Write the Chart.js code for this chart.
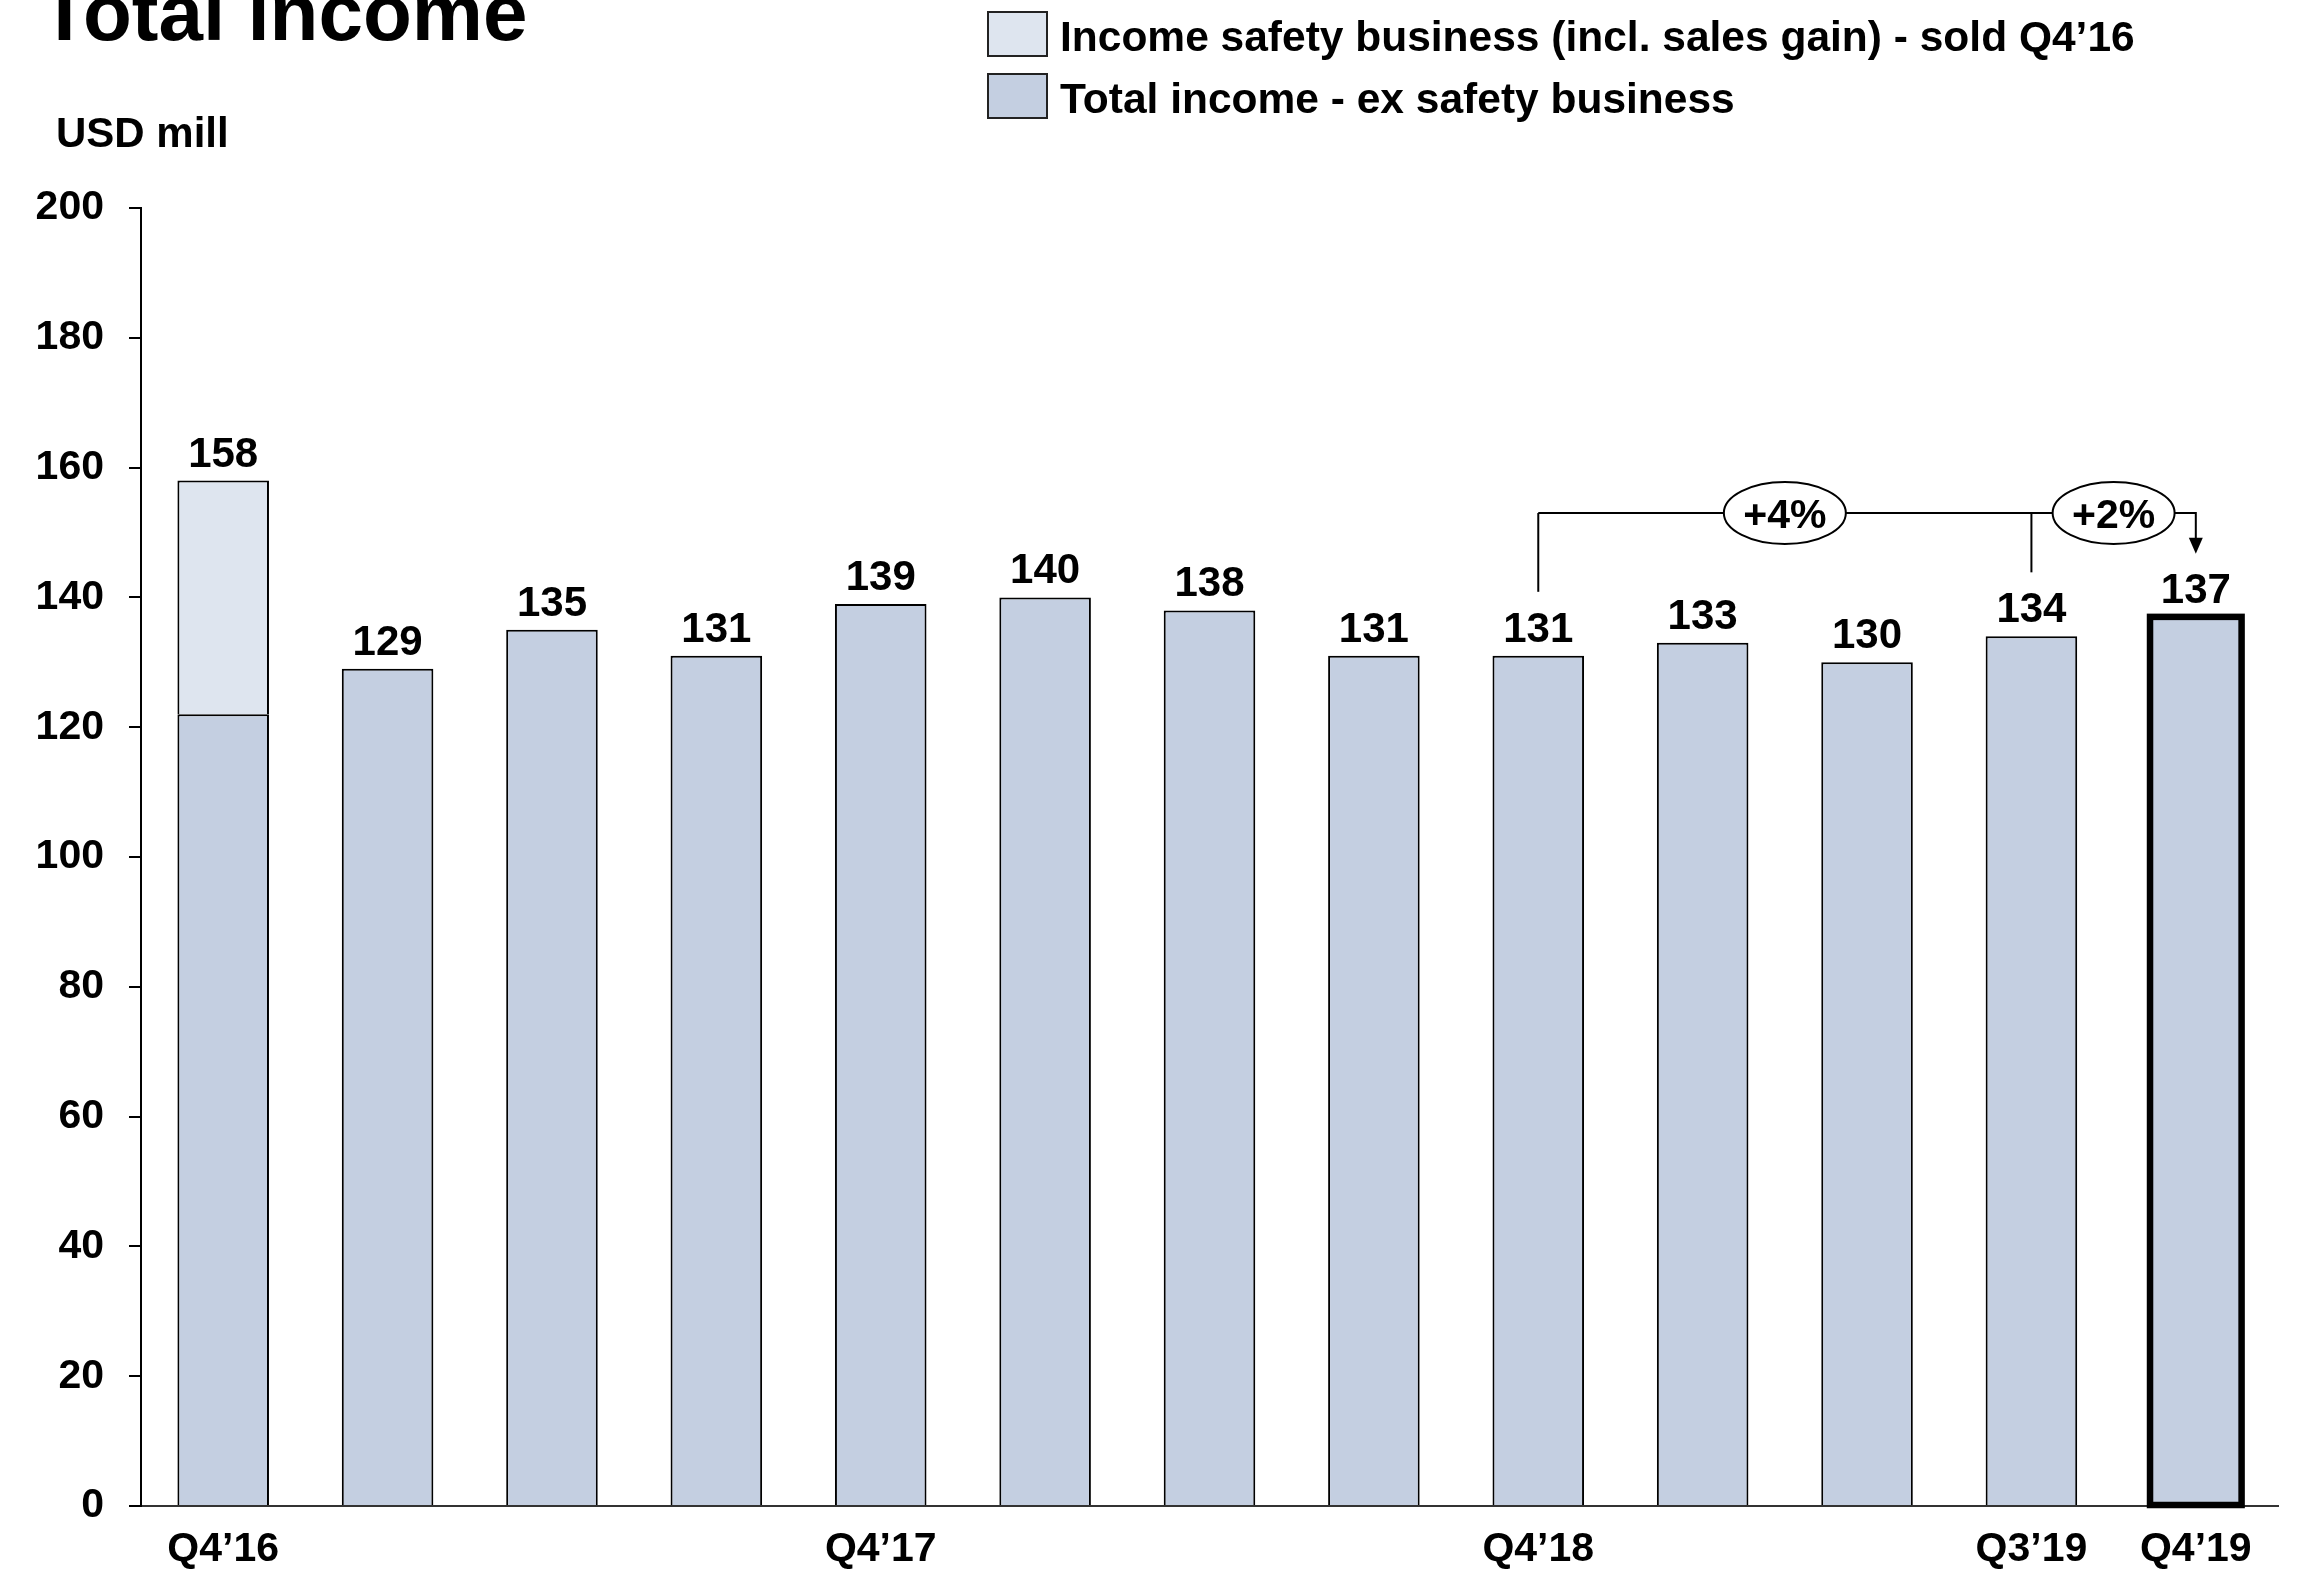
<!DOCTYPE html>
<html>
<head>
<meta charset="utf-8">
<script src="https://cdn.jsdelivr.net/npm/chart.js@4.4.0/dist/chart.umd.min.js"></script>
<style>
  html, body { margin: 0; padding: 0; background: #fff; }
</style>
</head>
<body>
<canvas id="myChart" width="2315" height="1570"></canvas>
<script>
// data
const quarters = ["Q4’16", "Q1’17", "Q2’17", "Q3’17", "Q4’17", "Q1’18", "Q2’18",
  "Q3’18", "Q4’18", "Q1’19", "Q2’19", "Q3’19", "Q4’19"];
const shownTicks = ["Q4’16", "Q4’17", "Q4’18", "Q3’19", "Q4’19"];
const exSafety = [122, 129, 135, 131, 139, 140, 138, 131, 131, 133, 130, 134, 137];
const safetyBusiness = [36, null, null, null, null, null, null, null, null, null, null, null, null];
const growthLabels = ["+4%", "+2%"];
const growthFrom = ["Q4’18", "Q3’19"];
const growthTo = "Q4’19";
const highlight = "Q4’19";

const FONT = '"Liberation Sans", Arial, sans-serif';
const bracketLevel = 153;        // y value of the bracket line
const ellipseAt = [9.5, 11.5];   // category position of the growth bubbles

function boldText(ctx, text, x, y, size, align) {
  ctx.font = "bold " + size + "px " + FONT;
  ctx.textBaseline = "alphabetic";
  ctx.textAlign = align || "left";
  ctx.fillText(text, x, y);
}

const decorations = {
  id: "decorations",
  afterDatasetsDraw(chart) {
    const ctx = chart.ctx;
    const xs = chart.scales.x, ys = chart.scales.y;
    const m0 = chart.getDatasetMeta(0);

    // thick frame on latest quarter
    const hi = quarters.indexOf(highlight);
    const bar = m0.data[hi];
    ctx.save();
    ctx.strokeStyle = "#000";
    ctx.lineWidth = 6.5;
    ctx.strokeRect(bar.x - bar.width / 2, bar.y, bar.width, bar.base - bar.y);
    ctx.restore();

    // value labels
    ctx.save();
    ctx.fillStyle = "#000";
    quarters.forEach((q, i) => {
      const total = exSafety[i] + (safetyBusiness[i] || 0);
      const top = ys.getPixelForValue(total);
      boldText(ctx, String(total), xs.getPixelForValue(i), top - 14, 42, "center");
    });
    ctx.restore();

    // growth brackets
    const yb = ys.getPixelForValue(bracketLevel);
    const toI = quarters.indexOf(growthTo);
    const xTo = xs.getPixelForValue(toI);
    const topTo = ys.getPixelForValue(exSafety[toI]);
    ctx.save();
    ctx.strokeStyle = "#000";
    ctx.fillStyle = "#000";
    ctx.lineWidth = 2;
    const firstX = xs.getPixelForValue(quarters.indexOf(growthFrom[0]));
    ctx.beginPath();
    ctx.moveTo(firstX, yb);
    ctx.lineTo(xTo, yb);
    ctx.lineTo(xTo, topTo - 78);
    ctx.stroke();
    ctx.beginPath();
    ctx.moveTo(xTo - 7, topTo - 79);
    ctx.lineTo(xTo + 7, topTo - 79);
    ctx.lineTo(xTo, topTo - 63);
    ctx.closePath();
    ctx.fill();
    growthFrom.forEach(q => {
      const i = quarters.indexOf(q);
      const x = xs.getPixelForValue(i);
      const t = ys.getPixelForValue(exSafety[i]);
      ctx.beginPath();
      ctx.moveTo(x, yb);
      ctx.lineTo(x, t - 64);
      ctx.stroke();
    });
    growthLabels.forEach((lab, k) => {
      const cx = xs.getPixelForValue(ellipseAt[k]);
      ctx.beginPath();
      ctx.ellipse(cx, yb, 61, 31, 0, 0, Math.PI * 2);
      ctx.fillStyle = "#fff";
      ctx.fill();
      ctx.stroke();
      ctx.fillStyle = "#000";
      boldText(ctx, lab, cx, yb + 15, 41, "center");
    });
    ctx.restore();
  },
  afterDraw(chart) {
    const ctx = chart.ctx;
    ctx.save();
    ctx.fillStyle = "#000";
    boldText(ctx, "Total income", 40, 40, 80);
    boldText(ctx, "USD mill", 56, 147, 42);

    // legend
    const items = [
      { text: "Income safety business (incl. sales gain) - sold Q4’16", color: "#dee5ef", box: 12, base: 51 },
      { text: "Total income - ex safety business", color: "#c4cfe1", box: 74, base: 113 }
    ];
    items.forEach(it => {
      ctx.fillStyle = it.color;
      ctx.fillRect(988, it.box, 59, 44);
      ctx.strokeStyle = "#222";
      ctx.lineWidth = 2;
      ctx.strokeRect(988, it.box, 59, 44);
      ctx.fillStyle = "#000";
      boldText(ctx, it.text, 1060, it.base, 42.5);
    });
    ctx.restore();
  }
};

const ctx = document.getElementById("myChart");
new Chart(ctx, {
  type: "bar",
  data: {
    labels: quarters,
    datasets: [
      {
        label: "Total income - ex safety business",
        data: exSafety,
        backgroundColor: "#c4cfe1",
        borderColor: "#000",
        borderWidth: 2,
        barPercentage: 0.557,
        categoryPercentage: 1
      },
      {
        label: "Income safety business (incl. sales gain) - sold Q4’16",
        data: safetyBusiness,
        backgroundColor: "#dee5ef",
        borderColor: "#000",
        borderWidth: 2,
        barPercentage: 0.557,
        categoryPercentage: 1
      }
    ]
  },
  options: {
    responsive: false,
    animation: false,
    layout: { padding: { top: 208, right: 37, left: 0, bottom: 0 } },
    plugins: { legend: { display: false }, tooltip: { enabled: false } },
    scales: {
      x: {
        stacked: true,
        grid: { display: false, drawTicks: false },
        border: { display: true, color: "#333", width: 2 },
        ticks: {
          autoSkip: false,
          maxRotation: 0,
          padding: 19,
          color: "#000",
          font: { family: FONT, size: 41, weight: "bold" },
          callback: (v, i) => shownTicks.includes(quarters[i]) ? quarters[i] : ""
        },
        afterFit: s => { s.height = 64; }
      },
      y: {
        stacked: true,
        min: 0,
        max: 200,
        ticks: {
          stepSize: 20,
          padding: 25,
          color: "#000",
          font: { family: FONT, size: 41, weight: "bold" }
        },
        grid: { drawOnChartArea: false, drawTicks: true, tickLength: 12, color: "#000", lineWidth: 2 },
        border: { color: "#000", width: 2 },
        afterFit: s => { s.width = 141; }
      }
    }
  },
  plugins: [decorations]
});
</script>
</body>
</html>
